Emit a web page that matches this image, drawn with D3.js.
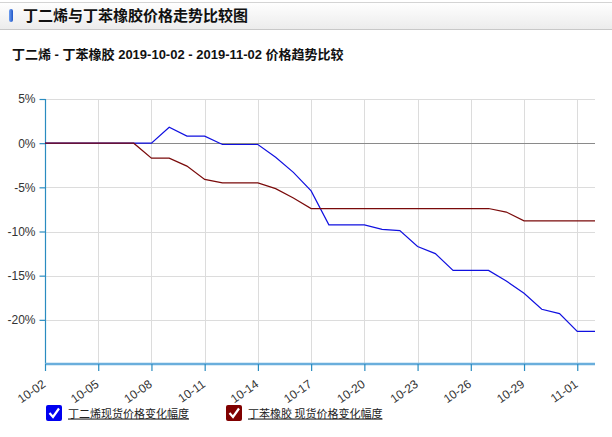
<!DOCTYPE html>
<html>
<head>
<meta charset="utf-8">
<script src="https://cdn.jsdelivr.net/npm/d3@7"></script>
<style>
  body { margin: 0; background: #fff; }
  svg { display: block; font-family: "Liberation Sans", Arial, "Noto Sans CJK SC", sans-serif; }
  .grid line { stroke: #dcdcdc; shape-rendering: crispEdges; }
  .grid path { display: none; }
  .tick text { fill: #333; }
</style>
</head>
<body>
<div id="chart"></div>
<script>
var pageTitle = '丁二烯与丁苯橡胶价格走势比较图',
	subTitle = '丁二烯 - 丁苯橡胶 2019-10-02 - 2019-11-02 价格趋势比较',
	seriesNames = ['丁二烯现货价格变化幅度', '丁苯橡胶 现货价格变化幅度'],
	seriesColors = ['#1010e0', '#7a0a0a'],
	boxColors = ['#0000f0', '#800000'];

var dates = ['2019-10-02','2019-10-03','2019-10-04','2019-10-05','2019-10-06','2019-10-07','2019-10-08','2019-10-09',
	'2019-10-10','2019-10-11','2019-10-12','2019-10-13','2019-10-14','2019-10-15','2019-10-16','2019-10-17',
	'2019-10-18','2019-10-19','2019-10-20','2019-10-21','2019-10-22','2019-10-23','2019-10-24','2019-10-25',
	'2019-10-26','2019-10-27','2019-10-28','2019-10-29','2019-10-30','2019-10-31','2019-11-01','2019-11-02'];

// 丁二烯 % change
var butadiene = [0, 0, 0, 0, 0, 0, 0, 1.8, 0.8, 0.8, -0.15, -0.15, -0.15, -1.6, -3.3, -5.4,
	-9.25, -9.25, -9.25, -9.75, -9.9, -11.7, -12.5, -14.4, -14.4, -14.4, -15.6, -17.0, -18.8, -19.3, -21.3, -21.3];
// 丁苯橡胶 % change
var sbr = [0, 0, 0, 0, 0, 0, -1.7, -1.7, -2.6, -4.1, -4.5, -4.5, -4.5, -5.15, -6.2, -7.4,
	-7.4, -7.4, -7.4, -7.4, -7.4, -7.4, -7.4, -7.4, -7.4, -7.4, -7.8, -8.8, -8.8, -8.8, -8.8, -8.8];

var xTicks = ['2019-10-02','2019-10-05','2019-10-08','2019-10-11','2019-10-14','2019-10-17',
	'2019-10-20','2019-10-23','2019-10-26','2019-10-29','2019-11-01'];
var yTicks = [5, 0, -5, -10, -15, -20];

var W = 612, H = 437,
	plot = { left: 45, right: 595, top: 99, bottom: 364 };

var svg = d3.select('#chart').append('svg')
	.attr('width', W)
	.attr('height', H);

// header bar
var defs = svg.append('defs');
var hg = defs.append('linearGradient').attr('id', 'hdr').attr('x1', 0).attr('y1', 0).attr('x2', 0).attr('y2', 1);
hg.append('stop').attr('offset', '0%').attr('stop-color', '#ffffff');
hg.append('stop').attr('offset', '100%').attr('stop-color', '#ececec');
var pg = defs.append('linearGradient').attr('id', 'pill').attr('x1', 0).attr('y1', 0).attr('x2', 1).attr('y2', 0);
pg.append('stop').attr('offset', '0%').attr('stop-color', '#6f9ff0');
pg.append('stop').attr('offset', '100%').attr('stop-color', '#1f56c8');

svg.append('rect').attr('x', 0).attr('y', 2).attr('width', W).attr('height', 27).attr('fill', 'url(#hdr)');
svg.append('line').attr('x1', 0).attr('x2', W).attr('y1', 2.5).attr('y2', 2.5).attr('stroke', '#d4d4d4');
svg.append('line').attr('x1', 0).attr('x2', W).attr('y1', 29.5).attr('y2', 29.5).attr('stroke', '#c8c8c8');
svg.append('rect').attr('x', 9).attr('y', 9).attr('width', 4).attr('height', 13).attr('rx', 2).attr('fill', 'url(#pill)');
svg.append('text').attr('x', 23).attr('y', 21)
	.style('font-family', '"Noto Sans CJK SC", sans-serif')
	.style('font-size', '15px').style('font-weight', 'bold').attr('fill', '#111')
	.text(pageTitle);

svg.append('text').attr('x', 12).attr('y', 59)
	.style('font-size', '13px').style('font-weight', 'bold').attr('fill', '#111')
	.text(subTitle);

var x = d3.scalePoint().domain(dates).range([plot.left, plot.right]);
var y = d3.scaleLinear().domain([-25, 5]).range([plot.bottom, plot.top]);

// grid
svg.append('g').attr('class', 'grid')
	.attr('transform', 'translate(0,' + plot.bottom + ')')
	.call(d3.axisBottom(x).tickValues(xTicks).tickSize(-(plot.bottom - plot.top)).tickFormat(''));
svg.append('g').attr('class', 'grid')
	.attr('transform', 'translate(' + plot.left + ',0)')
	.call(d3.axisLeft(y).tickValues(yTicks).tickSize(-(plot.right - plot.left)).tickFormat(''));

// zero line
svg.append('line')
	.attr('x1', plot.left).attr('x2', plot.right)
	.attr('y1', Math.round(y(0)) + 0.5).attr('y2', Math.round(y(0)) + 0.5)
	.attr('stroke', '#8a8a8a');

// y axis
var yAxis = svg.append('g')
	.attr('transform', 'translate(' + (plot.left + 0.5) + ',0)')
	.call(d3.axisLeft(y).tickValues(yTicks).tickSize(6).tickPadding(4).tickFormat(function(d) { return d + '%'; }));
yAxis.selectAll('path,line').attr('stroke', '#2a8cc0').attr('stroke-width', 1.2);
yAxis.select('.domain').attr('d', 'M0,' + plot.top + 'V' + plot.bottom);
yAxis.selectAll('text').style('font-size', '12px');

// x axis
var xAxis = svg.append('g')
	.attr('transform', 'translate(0,' + plot.bottom + ')')
	.call(d3.axisBottom(x).tickValues(xTicks).tickSize(7).tickSizeOuter(0).tickFormat(function(d) { return d.slice(5); }));
xAxis.select('.domain').attr('stroke', '#6aaedc').attr('stroke-width', 2.5).attr('d', 'M' + plot.left + ',0H' + plot.right);
xAxis.selectAll('.tick line').attr('stroke', '#2a8cc0').attr('stroke-width', 1.2);
xAxis.selectAll('text')
	.style('font-size', '12px')
	.style('text-anchor', 'end')
	.attr('x', 0)
	.attr('y', 0)
	.attr('dx', 0)
	.attr('dy', 0)
	.attr('transform', 'translate(1,22) rotate(-35)');

// lines
var line = d3.line()
	.x(function(d, i) { return x(dates[i]); })
	.y(function(d) { return y(d); });

[butadiene, sbr].forEach(function(s, k) {
	svg.append('path')
		.datum(s)
		.attr('fill', 'none')
		.attr('stroke', seriesColors[k])
		.attr('stroke-width', 1.2)
		.attr('d', line);
});

// legend
var legendX = [46, 226];
var lg = svg.selectAll('.legend')
	.data(seriesNames)
	.enter().append('g')
	.attr('class', 'legend')
	.attr('transform', function(d, i) { return 'translate(' + legendX[i] + ',405)'; });
lg.append('rect')
	.attr('width', 16).attr('height', 16).attr('rx', 2)
	.attr('fill', function(d, i) { return boxColors[i]; });
lg.append('path')
	.attr('d', 'M3.5,8 L7,12 L13,3.5')
	.attr('fill', 'none').attr('stroke', '#fff').attr('stroke-width', 2.2);
lg.append('text')
	.attr('x', 22).attr('y', 12.5)
	.style('font-family', '"Noto Sans CJK SC", sans-serif')
	.style('font-size', '11px').attr('fill', '#222')
	.style('text-decoration', 'underline')
	.text(function(d) { return d; });
</script>
</body>
</html>
